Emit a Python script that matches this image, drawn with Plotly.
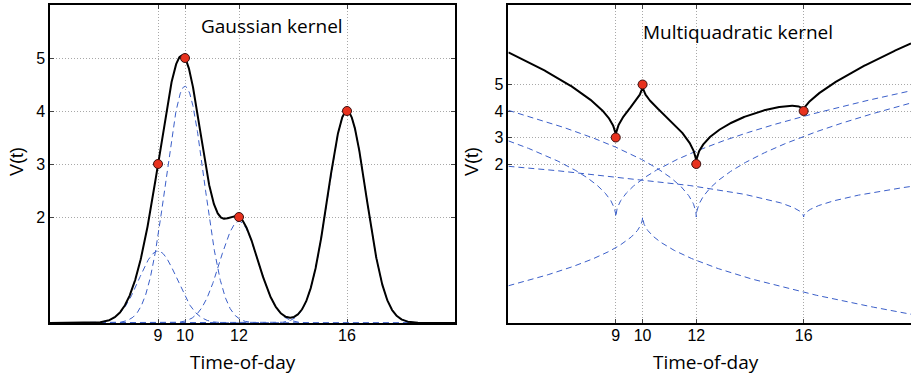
import numpy as np
import plotly.graph_objects as go

# ---- data ----
knot_hours = [9, 10, 12, 16]          # Time-of-day of the sampled points
knot_values = [3, 5, 2, 4]            # V(t) at those points
x_ticks = [9, 10, 12, 16]
y_ticks = [2, 3, 4, 5]
panel_titles = ["Gaussian kernel", "Multiquadratic kernel"]
x_title = "Time-of-day"
y_title = "V(t)"

# kernels (radial basis functions) of the two panels
def gaussian(r):
    return np.exp(-r ** 2)

def multiquadratic(r):
    return np.sqrt(np.abs(r))

c = np.array(knot_hours, dtype=float)
v = np.array(knot_values, dtype=float)
t = np.linspace(5, 20, 1501)

def fit(kernel):
    A = kernel(c[:, None] - c[None, :])
    w = np.linalg.solve(A, v)
    parts = [w[i] * kernel(t - c[i]) for i in range(len(c))]
    return parts, np.sum(parts, axis=0)

BLUE = "#3b5fc9"
fig = go.Figure()

for k, kern in enumerate([gaussian, multiquadratic]):
    xa = "x" if k == 0 else "x2"
    ya = "y" if k == 0 else "y2"
    parts, total = fit(kern)
    for p in parts:
        fig.add_trace(go.Scatter(x=t, y=p, mode="lines", xaxis=xa, yaxis=ya,
                                 line=dict(color=BLUE, width=1, dash="6px,4px"),
                                 showlegend=False, hoverinfo="skip"))
    fig.add_trace(go.Scatter(x=t, y=total, mode="lines", xaxis=xa, yaxis=ya,
                             line=dict(color="black", width=2),
                             showlegend=False))
    fig.add_trace(go.Scatter(x=knot_hours, y=knot_values, mode="markers",
                             xaxis=xa, yaxis=ya, cliponaxis=False,
                             marker=dict(color="#e8321e", size=9,
                                         line=dict(color="#3a1010", width=1)),
                             showlegend=False))

tickfont = dict(family="Liberation Sans, Arial", size=16, color="black")
grid = dict(showgrid=True, gridcolor="#a8a8a8", griddash="1px,2px", gridwidth=1)
common_x = dict(range=[5, 20], tickvals=x_ticks, ticks="inside", ticklen=4,
                showline=True, linecolor="black", linewidth=1.5, mirror="ticks",
                zeroline=False, tickfont=tickfont, layer="below traces",
                ticklabelstandoff=-3, **grid)
common_y = dict(tickvals=y_ticks, ticks="inside", ticklen=4,
                showline=True, linecolor="black", linewidth=1.5,
                zeroline=False, tickfont=tickfont, layer="below traces", **grid)

W, H = 911, 377
ml, mr, mt, mb = 50, 0, 5, 54
pw = W - ml - mr
d1 = (455 - ml) / pw
d2 = (508.4 - ml) / pw

fig.update_layout(
    width=W, height=H,
    margin=dict(l=ml, r=mr, t=mt, b=mb),
    paper_bgcolor="white", plot_bgcolor="white",
    xaxis=dict(domain=[0, d1], anchor="y", **common_x),
    yaxis=dict(domain=[0, 1], anchor="x", range=[0, 6], mirror="ticks", **common_y),
    xaxis2=dict(domain=[d2, 1], anchor="y2", **common_x),
    yaxis2=dict(domain=[0, 1], anchor="x2", range=[-4, 8], mirror=False, **common_y),
)

def px_x(px):
    return (px - ml) / pw

def px_y(py):
    return 1 - (py - mt) / (H - mt - mb)

titlefont = dict(family="Open Sans", size=19, color="black")
ann = [
    dict(text=panel_titles[0], x=px_x(272), y=px_y(26)),
    dict(text=panel_titles[1], x=px_x(738), y=px_y(32)),
    dict(text=x_title, x=px_x(243), y=px_y(362)),
    dict(text=x_title, x=px_x(706), y=px_y(362)),
]
for a in ann:
    fig.add_annotation(xref="paper", yref="paper", showarrow=False,
                       xanchor="center", yanchor="middle", font=titlefont, **a)
for cx in [17, 472]:
    fig.add_annotation(xref="paper", yref="paper", showarrow=False,
                       x=px_x(cx), y=px_y(162), text=y_title, textangle=-90,
                       xanchor="center", yanchor="middle",
                       font=dict(family="Liberation Sans, Arial", size=18, color="black"))

fig.write_html("out.html", config={"displayModeBar": False},
               post_script="document.body.style.margin='0';document.body.style.overflow='hidden';")
